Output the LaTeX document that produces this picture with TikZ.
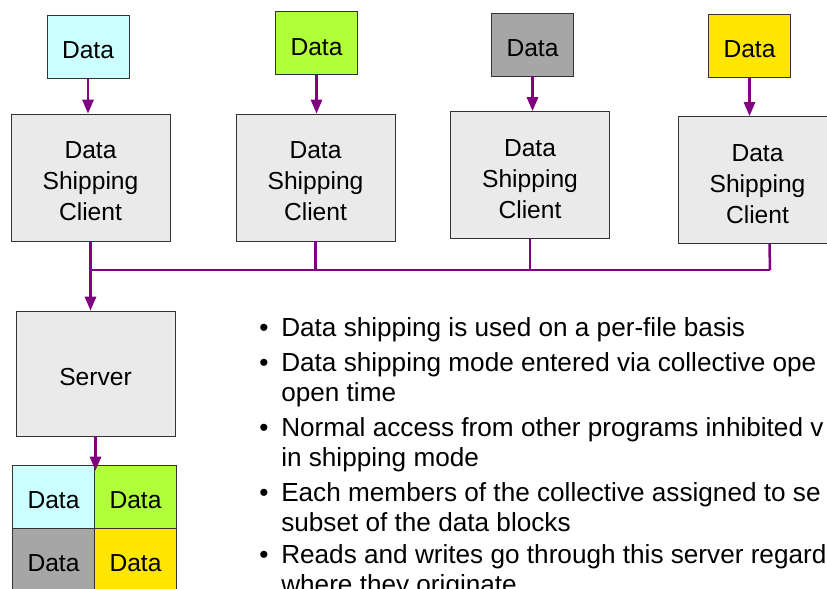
\documentclass[tikz,border=0pt]{standalone}
\usepackage{fontspec}
\setmainfont{Liberation Sans}
\usepackage{xcolor}
\usetikzlibrary{arrows.meta, positioning}

\definecolor{linkpurple}{HTML}{800080}
\definecolor{boxgray}{HTML}{EAEAEA}
\definecolor{datacyan}{HTML}{CCFFFF}
\definecolor{datagreen}{HTML}{B0FF3A}
\definecolor{datagrey}{HTML}{A6A6A6}
\definecolor{datayellow}{HTML}{FFE600}

\newcommand{\toppad}{\rule{0pt}{17.5pt}}

\begin{document}
\begin{tikzpicture}[
x=0.025cm, y=-0.025cm,
box/.style={draw=black!80, line width=0.6pt, inner sep=0pt, align=center,
  font=\fontsize{17.5}{22}\selectfont},
datablk/.style={box, minimum width=2.05cm, minimum height=1.575cm},
client/.style={box, fill=boxgray, minimum width=3.975cm, minimum height=3.175cm},
server/.style={box, fill=boxgray, minimum width=3.975cm, minimum height=3.125cm},
link/.style={linkpurple, line width=1.8pt},
arrow/.style={link, -{Triangle[length=3.5mm, width=2.8mm]}},
item/.style={anchor=north west, inner sep=0pt, align=left,
  font=\fontsize{18.6}{21.3}\selectfont}
]
\useasboundingbox (0,0) rectangle (827,588);
\clip (0,0) rectangle (827,588);

% data sources
\node[datablk, fill=datacyan] (d1) at (88,46.5) {\toppad Data};
\node[datablk, fill=datagreen] (d2) at (316.5,43) {\toppad Data};
\node[datablk, fill=datagrey] (d3) at (532.5,44.5) {\toppad Data};
\node[datablk, fill=datayellow] (d4) at (749.5,45.5) {\toppad Data};

% clients
\node[client] (c1) at (90.5,177.5) {\toppad Data\\Shipping\\Client};
\node[client] (c2) at (315.5,177.5) {\toppad Data\\Shipping\\Client};
\node[client] (c3) at (530,175) {\toppad Data\\Shipping\\Client};
\node[client] (c4) at (757.5,180) {\toppad Data\\Shipping\\Client};

% server and its blocks
\node[server] (srv) at (95.5,373.5) {\toppad Server};
\node[datablk, fill=datacyan] (g1) at (53.5,496.5) {\toppad Data};
\node[datablk, fill=datagreen] (g2) at (135.5,496.5) {\toppad Data};
\node[datablk, fill=datagrey] (g3) at (53.5,559.5) {\toppad Data};
\node[datablk, fill=datayellow] (g4) at (135.5,559.5) {\toppad Data};

\draw[arrow] (d1.south) -- (d1.south |- c1.north);
\draw[arrow] (d2.south) -- (d2.south |- c2.north);
\draw[arrow] (d3.south) -- (d3.south |- c3.north);
\draw[arrow] (d4.south) -- (d4.south |- c4.north);

% bus
\coordinate (busL) at (91,270);
\coordinate (busR) at (770,270);
\draw[link] (busL) -- (busR);
\draw[link] (c2.south) -- (c2.south |- busL);
\draw[link] (c3.south) -- (c3.south |- busL);
\draw[link] ([xshift=3mm]c4.south) -- (busR);
\draw[arrow] (c1.south) -- (c1.south |- srv.north);
\draw[arrow] (srv.south) -- ([yshift=-1.5mm]srv.south |- g1.north);

% notes
\node[item] (n1) at (281,317) {\llap{\textbullet\hspace{9pt}}Data shipping is used on a per-file basis};
\node[item] (n2) at (281,352) {\llap{\textbullet\hspace{9pt}}Data shipping mode entered via collective ope\\open time};
\node[item] (n3) at (281,417) {\llap{\textbullet\hspace{9pt}}Normal access from other programs inhibited v\\in shipping mode};
\node[item] (n4) at (281,482) {\llap{\textbullet\hspace{9pt}}Each members of the collective assigned to se\\subset of the data blocks};
\node[item] (n5) at (281,544) {\llap{\textbullet\hspace{9pt}}Reads and writes go through this server regard\\where they originate};
\end{tikzpicture}
\end{document}
